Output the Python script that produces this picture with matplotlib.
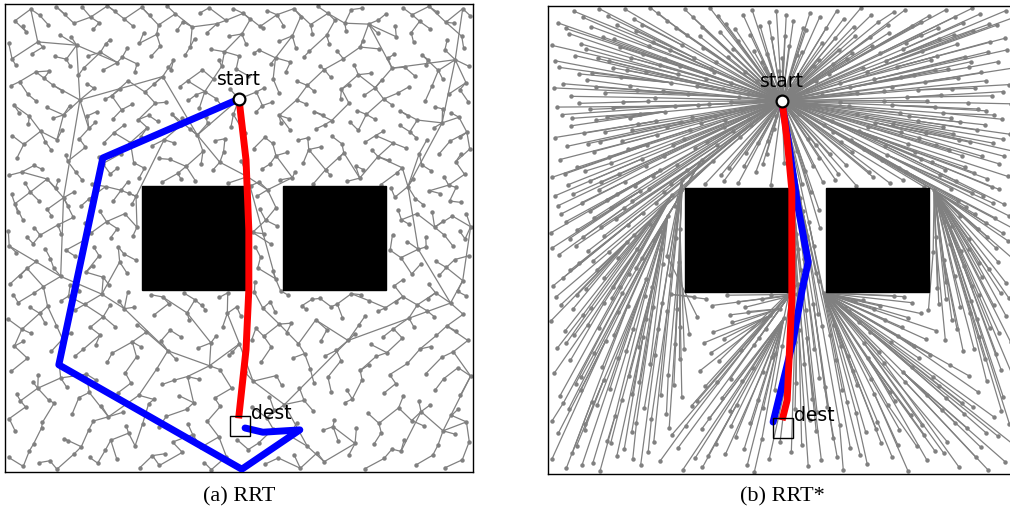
import numpy as np
import matplotlib.pyplot as plt
from matplotlib.collections import LineCollection
from matplotlib.patches import Rectangle

# workspace is 100 x 100, two square obstacles (x, y, w, h)
obstacles = [(29.3, 38.9, 22.2, 22.2), (59.3, 38.9, 22.2, 22.2)]
start = (50.0, 79.7)
dest = (50.2, 9.9)

# sampled tree nodes
samples = [
    (0.8, 3.1), (3.9, 1.2), (5.2, 4.5), (9.6, 2.4), (11.1, 0.6), (14.7, 3.8), (19.8, 1.9), (21.4, 4.6),
    (23.9, 2.7), (28.8, 0.9), (31.5, 3.5), (33.0, 1.4), (37.9, 4.2), (42.6, 2.0), (44.1, 0.5), (47.3, 3.3),
    (52.0, 4.8), (55.6, 1.7), (58.4, 3.0), (63.1, 0.8), (66.7, 4.1), (68.2, 2.2), (73.5, 3.7), (76.9, 0.7),
    (81.0, 2.9), (82.7, 4.9), (87.8, 1.5), (91.4, 3.6), (94.0, 0.9), (97.7, 2.6),
    (2.2, 8.7), (6.1, 6.0), (7.8, 9.4), (12.7, 7.1), (16.3, 5.4), (17.9, 9.0), (22.6, 6.8), (26.4, 8.3),
    (27.8, 5.6), (32.9, 9.7), (35.8, 6.4), (40.1, 8.0), (41.9, 5.3), (45.7, 7.5), (54.2, 6.2), (57.3, 9.2),
    (60.9, 7.7), (64.6, 5.5), (67.9, 8.9), (71.2, 6.6), (75.1, 9.5), (78.8, 5.9), (80.4, 8.4), (85.3, 6.9),
    (89.6, 9.8), (92.5, 5.7), (96.1, 8.1), (99.2, 6.5),
    (0.9, 11.4), (4.4, 13.9), (8.0, 10.6), (10.5, 14.7), (14.3, 12.3), (18.9, 10.9), (20.6, 14.2), (25.3, 12.8),
    (29.4, 10.3), (30.7, 14.6), (34.5, 11.9), (38.8, 13.4), (43.2, 10.8), (46.0, 14.0), (55.9, 11.6), (59.7, 14.4),
    (62.3, 10.5), (65.8, 13.1), (70.4, 11.2), (72.6, 14.8), (77.5, 12.6), (79.9, 10.4), (84.1, 13.7), (86.9, 11.0),
    (90.8, 14.3), (95.4, 12.1), (98.6, 10.7),
    (2.5, 16.6), (5.9, 19.3), (9.3, 15.4), (13.2, 18.1), (15.8, 15.9), (19.5, 19.6), (24.1, 16.9), (26.9, 19.0),
    (31.8, 15.5), (33.6, 18.7), (37.2, 16.3), (41.5, 19.8), (44.8, 15.8), (48.4, 17.9), (53.0, 19.4), (56.5, 16.1),
    (59.1, 18.5), (63.9, 15.3), (66.0, 19.1), (69.7, 17.2), (74.2, 15.6), (76.3, 19.7), (80.9, 16.8), (83.5, 18.9),
    (88.4, 15.2), (91.9, 17.5), (93.7, 19.9), (97.3, 16.4),
    (1.3, 21.5), (4.8, 24.3), (7.1, 20.7), (11.6, 22.9), (15.0, 24.8), (17.4, 20.9), (21.8, 23.4), (25.7, 21.2),
    (28.1, 24.6), (32.4, 22.0), (36.5, 24.1), (39.0, 20.4), (43.7, 22.7), (47.9, 24.9), (51.3, 21.3), (54.8, 23.6),
    (58.0, 20.6), (61.6, 24.4), (65.2, 22.1), (69.0, 20.3), (71.8, 23.8), (75.9, 21.7), (79.3, 24.7), (82.2, 20.8),
    (86.0, 23.2), (89.9, 21.0), (93.3, 24.5), (96.8, 22.3), (99.5, 20.5),
    (2.0, 26.9), (5.6, 29.6), (9.9, 25.8), (12.3, 28.4), (16.7, 26.2), (20.3, 29.3), (22.9, 25.4), (27.2, 27.8),
    (30.2, 29.9), (34.8, 25.9), (37.5, 28.9), (41.2, 26.5), (45.1, 29.1), (48.6, 25.6), (52.7, 28.2), (56.9, 26.7),
    (60.2, 29.8), (64.0, 25.3), (67.5, 28.0), (70.8, 26.0), (74.7, 29.4), (78.1, 27.3), (81.6, 25.5), (84.9, 28.6),
    (88.7, 26.3), (92.2, 29.2), (95.8, 25.7), (98.9, 28.1),
    (0.6, 32.7), (3.6, 30.5), (7.4, 33.9), (11.0, 31.3), (14.9, 34.6), (18.2, 30.9), (21.0, 33.2), (25.5, 34.9),
    (28.3, 31.5), (31.9, 33.6), (35.3, 30.3), (39.4, 32.4), (42.8, 34.7), (46.5, 31.0), (50.4, 33.3), (53.6, 30.7),
    (57.7, 34.2), (61.2, 31.8), (64.3, 34.8), (68.8, 30.4), (72.1, 33.0), (75.6, 31.4), (79.6, 34.3), (83.0, 30.6),
    (86.3, 32.9), (90.1, 34.5), (94.4, 31.2), (97.9, 33.7),
    (2.8, 36.2), (6.3, 38.3), (9.1, 35.4), (13.6, 37.6), (17.0, 35.8), (20.7, 38.0), (24.4, 36.5), (27.6, 35.2),
    (31.1, 37.9), (35.0, 36.0), (38.3, 38.2), (42.0, 35.6), (45.8, 37.3), (49.5, 35.3), (53.3, 38.4), (56.7, 36.4),
    (60.5, 37.8), (63.4, 35.5), (67.3, 37.1), (71.0, 35.9), (74.0, 38.1), (77.8, 36.6), (81.3, 35.1), (85.0, 37.5),
    (88.1, 35.7), (92.0, 38.3), (95.2, 36.1), (98.4, 37.7),
    (1.1, 40.2), (4.7, 43.5), (8.2, 39.6), (11.9, 41.8), (15.4, 40.0), (18.8, 44.1), (22.3, 39.9), (26.0, 42.6),
    (27.9, 45.3), (2.4, 46.9), (6.0, 48.8), (9.7, 45.6), (13.0, 47.4), (16.9, 49.5), (20.1, 46.2), (24.2, 48.1),
    (27.3, 50.4), (0.7, 51.6), (3.8, 53.9), (7.5, 50.6), (11.3, 52.8), (14.6, 54.4), (18.4, 51.1), (21.7, 53.5),
    (25.6, 55.2), (28.2, 52.3), (2.1, 57.3), (5.4, 59.8), (9.0, 56.1), (12.5, 58.6), (16.2, 56.8), (19.6, 60.4),
    (23.1, 57.9), (26.5, 59.6),
    (53.4, 40.7), (57.2, 43.0), (54.6, 45.9), (56.8, 48.7), (52.9, 51.2), (55.7, 53.8), (57.9, 56.5), (53.8, 58.9),
    (56.1, 60.3),
    (83.2, 39.8), (86.9, 42.3), (90.5, 40.1), (94.3, 43.7), (97.8, 40.9), (84.6, 45.8), (88.3, 47.6), (92.1, 45.0),
    (95.7, 48.3), (99.1, 46.2), (82.8, 50.7), (86.4, 52.9), (89.9, 50.2), (93.6, 53.6), (97.2, 51.4), (84.0, 56.0),
    (87.7, 58.4), (91.3, 55.5), (95.0, 57.9), (98.6, 55.1), (82.5, 60.6), (90.7, 60.1), (96.4, 60.8),
    (0.9, 63.4), (4.3, 61.8), (7.9, 64.7), (11.4, 62.3), (15.1, 64.1), (18.6, 61.5), (22.5, 63.7), (26.2, 62.0),
    (29.8, 64.9), (33.5, 61.9), (36.9, 63.8), (40.7, 62.2), (44.4, 64.5), (47.6, 61.7), (51.8, 63.1), (55.0, 64.8),
    (58.7, 62.4), (62.0, 64.2), (65.9, 61.6), (69.4, 63.5), (73.1, 62.1), (76.6, 64.6), (80.3, 61.4), (83.7, 63.9),
    (87.2, 62.6), (91.0, 64.4), (94.8, 61.3), (98.2, 63.6),
    (2.6, 67.2), (6.2, 65.5), (9.8, 68.9), (13.4, 66.4), (17.2, 69.4), (20.9, 65.9), (24.7, 68.0), (27.5, 66.1),
    (31.4, 69.7), (35.2, 66.8), (38.7, 65.3), (42.3, 68.5), (45.9, 66.2), (53.1, 69.1), (56.6, 65.8), (60.3, 68.3),
    (63.7, 66.0), (67.6, 69.5), (71.4, 67.0), (74.9, 65.4), (78.5, 68.7), (82.0, 66.6), (85.7, 69.2), (89.1, 65.6),
    (92.7, 67.9), (96.3, 66.3), (99.3, 69.0),
    (1.5, 71.9), (5.0, 74.4), (8.6, 70.6), (12.2, 73.1), (15.9, 71.2), (19.3, 74.7), (23.3, 72.5), (26.8, 70.4),
    (30.4, 73.6), (34.0, 71.0), (37.7, 74.2), (41.1, 72.0), (44.9, 70.8), (48.3, 73.8), (55.5, 71.5), (58.9, 74.6),
    (62.6, 70.9), (66.4, 73.3), (69.9, 71.7), (73.7, 74.8), (77.0, 70.5), (80.8, 72.8), (84.3, 74.1), (87.9, 71.4),
    (91.6, 73.5), (95.1, 70.7), (98.7, 72.6),
    (3.0, 76.8), (6.7, 79.2), (10.3, 75.6), (13.8, 78.3), (17.6, 76.1), (21.3, 79.6), (24.9, 77.4), (28.5, 75.3),
    (32.1, 78.8), (35.6, 76.5), (39.2, 79.4), (42.9, 75.9), (46.4, 78.1), (53.6, 76.9), (57.0, 79.0), (60.7, 75.5),
    (64.4, 78.6), (68.0, 76.3), (71.7, 79.8), (75.3, 77.2), (79.0, 75.4), (82.6, 78.5), (86.2, 76.0), (89.8, 79.3),
    (93.5, 77.6), (97.0, 75.8),
    (1.2, 82.5), (4.9, 80.7), (8.4, 84.2), (12.1, 81.5), (15.7, 84.8), (19.0, 82.0), (22.8, 80.4), (26.3, 83.6),
    (29.9, 81.2), (33.7, 84.5), (37.3, 82.3), (40.8, 80.6), (44.6, 83.9), (48.1, 81.8), (51.9, 84.7), (55.4, 82.1),
    (58.6, 80.9), (62.4, 83.5), (66.0, 81.4), (69.6, 84.3), (73.4, 82.7), (76.8, 80.5), (80.5, 83.8), (84.0, 81.0),
    (87.6, 84.6), (91.2, 82.4), (94.9, 80.8), (98.5, 83.2),
    (2.3, 86.9), (5.8, 89.4), (9.5, 85.7), (13.1, 88.2), (16.8, 86.3), (20.4, 89.7), (24.0, 87.5), (27.7, 85.4),
    (31.3, 88.9), (34.9, 86.6), (38.5, 89.1), (42.2, 85.9), (45.7, 88.0), (49.4, 86.1), (53.2, 89.5), (56.8, 87.2),
    (60.0, 85.5), (63.8, 88.6), (67.3, 86.8), (71.0, 89.9), (74.6, 87.0), (78.2, 85.2), (81.8, 88.4), (85.4, 86.5),
    (89.0, 89.2), (92.6, 85.8), (96.2, 88.1), (99.1, 86.7),
    (0.8, 91.6), (4.5, 94.1), (8.1, 90.8), (11.7, 93.4), (15.3, 91.2), (18.9, 94.6), (22.4, 92.3), (26.1, 90.5),
    (29.6, 93.8), (33.2, 91.0), (36.8, 94.4), (40.5, 92.6), (44.0, 90.3), (47.8, 93.1), (51.5, 91.4), (55.1, 94.8),
    (58.5, 92.0), (62.1, 90.7), (65.7, 93.6), (69.3, 91.5), (72.9, 94.3), (76.5, 92.2), (80.0, 90.4), (83.6, 93.0),
    (87.3, 91.8), (90.8, 94.7), (94.5, 92.4), (98.0, 90.6),
    (2.1, 96.4), (5.5, 98.9), (9.2, 95.6), (12.8, 97.8), (16.5, 99.3), (20.1, 96.0), (23.6, 98.4), (27.3, 95.3),
    (30.9, 97.6), (34.6, 99.6), (38.0, 96.2), (41.7, 98.1), (45.3, 95.8), (48.8, 99.0), (52.4, 96.7), (56.0, 98.6),
    (59.5, 95.4), (63.2, 97.3), (66.8, 99.5), (70.5, 96.5), (74.0, 98.8), (77.7, 95.7), (81.4, 97.9), (85.0, 99.2),
    (88.6, 96.3), (92.3, 98.3), (95.9, 95.9), (99.4, 97.5),
]

# second batch of samples
more_samples = [
    (7.3, 2.0), (13.4, 6.6), (18.1, 3.1), (25.9, 9.9), (34.2, 3.9), (39.1, 10.2), (49.6, 6.9), (52.8, 13.9),
    (61.8, 3.6), (70.1, 9.7), (74.8, 6.1), (84.6, 4.4), (88.9, 12.9), (93.6, 8.8), (3.3, 15.2), (7.0, 17.9),
    (11.9, 20.1), (18.0, 17.0), (22.1, 11.8), (28.6, 16.4), (36.1, 19.6), (40.3, 14.8), (45.9, 21.9), (50.1, 27.4),
    (57.5, 13.2), (62.9, 18.0), (68.4, 24.8), (73.0, 17.6), (77.8, 22.9), (85.1, 16.2), (91.0, 26.8), (96.9, 13.5),
    (3.9, 27.9), (8.5, 31.9), (14.1, 29.8), (19.4, 27.2), (23.6, 31.0), (29.1, 26.7), (33.3, 28.0), (38.9, 34.0),
    (44.0, 27.6), (47.5, 33.9), (55.3, 29.0), (58.6, 31.6), (62.7, 27.4), (66.4, 32.5), (73.3, 28.1), (77.0, 33.4),
    (80.7, 28.8), (87.4, 30.9), (91.7, 33.2), (96.4, 30.1),
    (1.8, 37.9), (5.3, 35.2), (12.0, 36.6), (15.9, 38.6), (22.5, 35.7), (26.2, 38.4), (33.7, 37.4), (40.6, 36.8),
    (47.6, 38.3), (55.1, 35.0), (58.9, 38.7), (65.6, 36.9), (69.7, 35.3), (76.0, 37.9), (83.5, 36.3), (90.3, 37.0),
    (96.7, 38.6),
    (3.2, 41.9), (6.7, 45.0), (10.4, 43.6), (13.9, 39.9), (17.3, 42.7), (21.0, 41.6), (24.5, 44.9), (0.9, 48.3),
    (4.6, 50.3), (8.6, 47.7), (12.0, 50.9), (15.0, 46.1), (19.0, 48.0), (22.6, 50.1), (25.4, 46.6), (2.7, 55.5),
    (6.3, 52.2), (9.9, 54.8), (13.5, 56.9), (17.1, 53.3), (20.2, 55.8), (24.0, 52.0), (27.1, 57.2), (1.4, 59.4),
    (7.2, 58.0), (10.8, 60.7), (14.8, 59.9), (18.0, 58.4), (21.5, 61.0), (24.8, 60.2), (28.0, 58.9),
    (54.0, 43.6), (57.8, 41.3), (53.5, 48.1), (55.4, 50.9), (58.1, 52.6), (54.4, 56.2), (52.6, 61.2),
    (85.0, 41.1), (88.8, 44.4), (92.8, 42.0), (96.1, 45.4), (82.3, 47.4), (86.0, 49.2), (90.0, 48.1), (93.9, 50.6),
    (98.3, 49.8), (84.7, 53.9), (88.0, 55.2), (91.8, 52.3), (95.6, 54.7), (99.5, 52.4), (83.3, 58.7), (86.1, 61.0),
    (89.4, 57.1), (93.0, 59.5), (97.5, 57.6),
    (3.6, 64.1), (9.0, 62.6), (13.0, 67.8), (16.4, 62.5), (20.0, 67.3), (24.0, 64.9), (28.7, 62.9), (32.8, 67.0),
    (37.6, 62.6), (41.9, 65.8), (46.7, 68.4), (50.5, 66.5), (54.3, 62.0), (57.9, 67.6), (61.4, 62.9), (64.9, 68.9),
    (68.5, 64.6), (72.4, 68.2), (75.8, 62.8), (79.7, 67.4), (84.9, 65.0), (88.5, 68.0), (93.8, 63.1), (97.4, 67.9),
    (4.0, 70.0), (7.6, 72.8), (11.1, 71.0), (17.9, 73.4), (21.1, 70.3), (25.4, 74.1), (29.0, 71.6), (32.6, 74.9),
    (36.2, 70.3), (39.6, 73.2), (43.3, 74.5), (47.0, 71.2), (51.2, 72.4), (57.2, 70.2), (60.9, 73.1), (64.7, 71.4),
    (68.3, 74.2), (72.0, 70.1), (75.5, 73.0), (79.2, 71.9), (82.9, 70.3), (86.5, 72.7), (90.1, 70.9), (93.4, 74.6),
    (97.3, 71.5),
    (1.9, 78.4), (5.2, 76.0), (8.9, 77.9), (12.5, 76.3), (16.0, 79.5), (19.6, 77.0), (23.0, 75.4), (27.2, 78.6),
    (30.7, 76.2), (34.3, 79.0), (37.9, 75.6), (41.5, 77.7), (45.1, 79.8), (48.8, 76.4), (55.0, 78.3), (58.6, 76.2),
    (62.3, 79.5), (66.1, 77.0), (69.8, 75.1), (73.5, 78.8), (77.2, 76.4), (80.9, 79.7), (84.5, 77.1), (88.1, 75.2),
    (91.8, 78.0), (95.4, 76.7), (99.0, 79.1),
    (3.1, 83.4), (6.6, 85.5), (10.2, 82.7), (13.9, 86.8), (17.5, 83.0), (21.0, 85.9), (24.6, 81.8), (28.2, 87.2),
    (31.8, 82.9), (35.5, 86.0), (39.0, 83.6), (42.7, 81.3), (46.3, 86.7), (50.0, 88.9), (53.7, 81.2), (57.3, 84.0),
    (61.0, 87.6), (64.6, 82.6), (68.2, 86.0), (71.9, 81.8), (75.5, 84.9), (79.1, 82.1), (82.7, 86.3), (86.3, 82.3),
    (89.9, 86.9), (93.5, 84.0), (97.2, 81.7),
    (1.5, 88.3), (7.0, 91.9), (10.6, 88.8), (14.2, 92.9), (17.8, 88.9), (21.5, 91.5), (25.1, 88.7), (28.7, 91.6),
    (32.4, 93.5), (36.0, 88.0), (39.6, 90.9), (43.2, 93.9), (46.9, 89.8), (50.6, 93.6), (54.2, 90.2), (57.8, 88.5),
    (61.4, 93.2), (65.0, 89.9), (68.7, 93.3), (72.3, 88.3), (75.9, 90.8), (79.6, 93.8), (83.2, 89.3), (86.8, 93.9),
    (90.4, 88.1), (94.0, 90.2), (97.6, 93.1),
    (3.8, 95.2), (7.4, 97.6), (11.0, 99.4), (14.7, 95.9), (18.3, 97.2), (21.9, 99.6), (25.5, 96.8), (29.2, 99.3),
    (32.8, 95.5), (36.4, 97.9), (40.0, 95.1), (43.6, 99.2), (47.2, 96.5), (50.9, 98.0), (54.5, 95.2), (58.1, 97.7),
    (61.7, 99.0), (65.3, 95.6), (69.0, 98.0), (72.6, 95.9), (76.2, 99.1), (79.8, 96.6), (83.4, 95.3), (87.0, 97.7),
    (90.6, 99.5), (94.2, 96.1), (97.8, 99.0),
]

# solution paths
rrt_path_x = [50.0, 20.9, 11.5, 50.6, 63.0, 55.1, 51.3]
rrt_path_y = [79.7, 67.1, 22.9, 0.6, 9.0, 8.5, 9.4]
rrt_best_x = [50.0, 51.5, 52.1, 52.1, 51.5, 50.0]
rrt_best_y = [79.7, 66.7, 51.7, 38.9, 26.1, 12.2]
star_path_x = [50.0, 51.3, 53.4, 55.6, 54.3, 52.4, 48.1]
star_path_y = [79.3, 71.4, 57.1, 45.3, 39.3, 28.6, 11.1]
star_best_x = [50.0, 51.1, 52.1, 52.1, 51.1, 50.2]
star_best_y = [79.7, 71.4, 60.7, 37.2, 15.8, 12.2]

captions = ['(a) RRT', '(b) RRT*']


def hits_box(p, q, box):
    # Liang-Barsky clip of segments p->q against an axis aligned box
    x0, y0, w, h = box
    d = q - p
    t0 = np.zeros(len(p))
    t1 = np.ones(len(p))
    for k, lo, hi in ((0, x0, x0 + w), (1, y0, y0 + h)):
        dk, pk = d[:, k], p[:, k]
        with np.errstate(divide='ignore', invalid='ignore'):
            ta = (lo - pk) / dk
            tb = (hi - pk) / dk
        tmin, tmax = np.minimum(ta, tb), np.maximum(ta, tb)
        flat = dk == 0
        inside = (pk > lo) & (pk < hi)
        tmin = np.where(flat, np.where(inside, -np.inf, np.inf), tmin)
        tmax = np.where(flat, np.where(inside, np.inf, -np.inf), tmax)
        t0 = np.maximum(t0, tmin)
        t1 = np.minimum(t1, tmax)
    return t0 < t1


def edge_costs(nodes, radius):
    n = len(nodes)
    p = np.repeat(nodes, n, axis=0)
    q = np.tile(nodes, (n, 1))
    blocked = np.zeros(n * n, bool)
    for box in obstacles:
        blocked |= hits_box(p, q, box)
    D = np.hypot(*(p - q).T).reshape(n, n)
    D[blocked.reshape(n, n) | (D > radius)] = np.inf
    np.fill_diagonal(D, np.inf)
    return D


def grow_tree(D):
    # plain RRT: nodes join in a scrambled order, each to its nearest tree node
    n = len(D)
    parent = np.full(n, -1)
    in_tree = np.zeros(n, bool)
    in_tree[0] = True
    queue = list(np.argsort((np.arange(1, n) * 7919) % (n - 1)) + 1)
    while queue:
        k = queue.pop(0)
        d = np.where(in_tree, D[k], np.inf)
        j = np.argmin(d)
        if not np.isfinite(d[j]):
            queue.append(k)
            continue
        parent[k] = j
        in_tree[k] = True
    return parent


def rewire_tree(D):
    # shortest cost-to-come from the root, like a converged RRT*
    n = len(D)
    cost = np.full(n, np.inf)
    cost[0] = 0
    parent = np.full(n, -1)
    done = np.zeros(n, bool)
    for _ in range(n):
        c = np.where(done, np.inf, cost)
        k = np.argmin(c)
        if not np.isfinite(c[k]):
            break
        done[k] = True
        new = cost[k] + D[k]
        upd = (new < cost) & ~done
        cost[upd] = new[upd]
        parent[upd] = k
    return parent


nodes = np.array([start] + samples + more_samples)
free = np.ones(len(nodes), bool)
for x0, y0, w, h in obstacles:
    free &= ~((nodes[:, 0] > x0) & (nodes[:, 0] < x0 + w) & (nodes[:, 1] > y0) & (nodes[:, 1] < y0 + h))
nodes = nodes[free]

trees = [grow_tree(edge_costs(nodes, 25)), rewire_tree(edge_costs(nodes, 30))]
paths = [((rrt_path_x, rrt_path_y), (rrt_best_x, rrt_best_y)),
         ((star_path_x, star_path_y), (star_best_x, star_best_y))]

fig = plt.figure(figsize=(10.1, 5.14), dpi=100)
axes = [fig.add_axes([5 / 1010, 42 / 514, 468 / 1010, 468 / 514]),
        fig.add_axes([548 / 1010, 40 / 514, 468 / 1010, 468 / 514])]

gray = '#808080'
for ax, parent, (blue, red), cap in zip(axes, trees, paths, captions):
    segs = [(nodes[i], nodes[parent[i]]) for i in range(len(nodes)) if parent[i] >= 0]
    ax.add_collection(LineCollection(segs, colors=gray, linewidths=0.9, zorder=1))
    ax.plot(nodes[1:, 0], nodes[1:, 1], 'o', color=gray, ms=3.2, mew=0, zorder=2)
    for x0, y0, w, h in obstacles:
        ax.add_patch(Rectangle((x0, y0), w, h, color='black', zorder=3))
    ax.plot(*blue, color='#0000ff', lw=5, solid_capstyle='round', zorder=4)
    ax.plot(*red, color='#ff0000', lw=5, zorder=5)
    ax.plot(*dest, 's', ms=14, mfc='none', mec='black', mew=1.0, zorder=6)
    ax.plot(*start, 'o', ms=8.5, mfc='white', mec='black', mew=1.6, zorder=7)
    ax.annotate('start', start, xytext=(0, 10), textcoords='offset points',
                ha='center', va='baseline', fontsize=13.5, zorder=8)
    ax.annotate('dest', dest, xytext=(8, 5), textcoords='offset points',
                ha='left', va='baseline', fontsize=13.5, zorder=8)
    ax.set_xlim(0, 100)
    ax.set_ylim(0, 100)
    ax.set_xticks([])
    ax.set_yticks([])
    for s in ax.spines.values():
        s.set_linewidth(1.0)
    pos = ax.get_position()
    fig.text(min(pos.x0 + pos.width / 2, 785 / 1010), 17 / 514, cap, ha='center', va='center',
             fontsize=16, family='Liberation Serif')

fig.savefig('out.png', dpi=100)
